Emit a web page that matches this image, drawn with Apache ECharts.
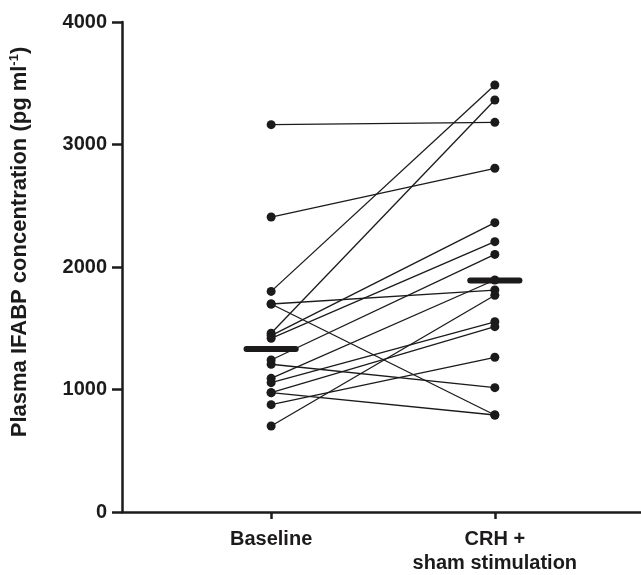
<!DOCTYPE html>
<html>
<head>
<meta charset="utf-8">
<script src="https://cdn.jsdelivr.net/npm/echarts@6/dist/echarts.min.js"></script>
<style>
html, body { margin: 0; padding: 0; background: #fff; }
#main { width: 641px; height: 575px; }
</style>
</head>
<body>
<div id="main"></div>
<script>
// 每个受试者两个时间点的数值 (pg/ml)
var categories = ['Baseline', 'CRH +\nsham stimulation'];
var baseline = [3162, 2408, 1801, 1459, 1440, 1418, 1698, 1698, 1241, 1206, 1091, 1056, 974, 974, 876, 702];
var crhSham = [3181, 2806, 3486, 3363, 2362, 2207, 1812, 792, 2103, 1015, 1894, 1553, 1513, 792, 1263, 1769];
var medians = [1330, 1890];
var yTicks = [0, 1000, 2000, 3000, 4000];

var ink = '#1c1a1b';
var font = 'Liberation Sans, Arial, sans-serif';

var chart = echarts.init(document.getElementById('main'));

var series = [];
// 每个受试者一条连线
for (var i = 0; i < baseline.length; i++) {
    series.push({
        type: 'line',
        data: [[0, baseline[i]], [1, crhSham[i]]],
        symbol: 'circle',
        symbolSize: 9,
        itemStyle: { color: ink },
        lineStyle: { color: ink, width: 1.3 },
        silent: true,
        animation: false,
        z: 2
    });
}
// 中位数横杠
for (var j = 0; j < medians.length; j++) {
    series.push({
        type: 'line',
        data: [[j - 0.11, medians[j]], [j + 0.11, medians[j]]],
        symbol: 'none',
        lineStyle: { color: ink, width: 6, cap: 'round' },
        silent: true,
        animation: false,
        z: 3
    });
}

var option = {
    backgroundColor: '#fff',
    grid: { left: 119, right: 0, top: 22, bottom: 63 },
    xAxis: {
        type: 'value',
        min: -150 / 225,
        max: 372 / 225,
        splitLine: { show: false },
        axisLine: { show: true, onZero: false, lineStyle: { color: ink, width: 2.5 } },
        axisTick: {
            show: true,
            customValues: [0, 1],
            length: 7,
            lineStyle: { color: ink, width: 2.5 }
        },
        axisLabel: {
            customValues: [0, 1],
            margin: 15,
            fontFamily: font,
            fontWeight: 'bold',
            fontSize: 20,
            lineHeight: 24,
            color: ink,
            formatter: function (v) {
                return categories[Math.round(v)];
            }
        }
    },
    yAxis: {
        type: 'value',
        min: yTicks[0],
        max: yTicks[yTicks.length - 1],
        interval: 1000,
        splitLine: { show: false },
        axisLine: { show: true, onZero: false, lineStyle: { color: ink, width: 2.5 } },
        axisTick: { show: true, length: 10, lineStyle: { color: ink, width: 2.5 } },
        axisLabel: {
            margin: 15,
            fontFamily: font,
            fontWeight: 'bold',
            fontSize: 20,
            color: ink,
            formatter: function (v) { return String(v); }
        },
        name: '{a|Plasma IFABP concentration (pg ml}{s|-1}{a|)}',
        nameLocation: 'middle',
        nameGap: 90,
        nameTextStyle: {
            padding: [0, 0, 0, 50],
            rich: {
                a: { fontFamily: font, fontWeight: 'bold', fontSize: 22, color: ink, lineHeight: 24 },
                s: { fontFamily: font, fontWeight: 'bold', fontSize: 13, color: ink, lineHeight: 24, verticalAlign: 'top', padding: [0, 0, 9, 0] }
            }
        }
    },
    series: series
};

chart.setOption(option);
</script>
</body>
</html>
